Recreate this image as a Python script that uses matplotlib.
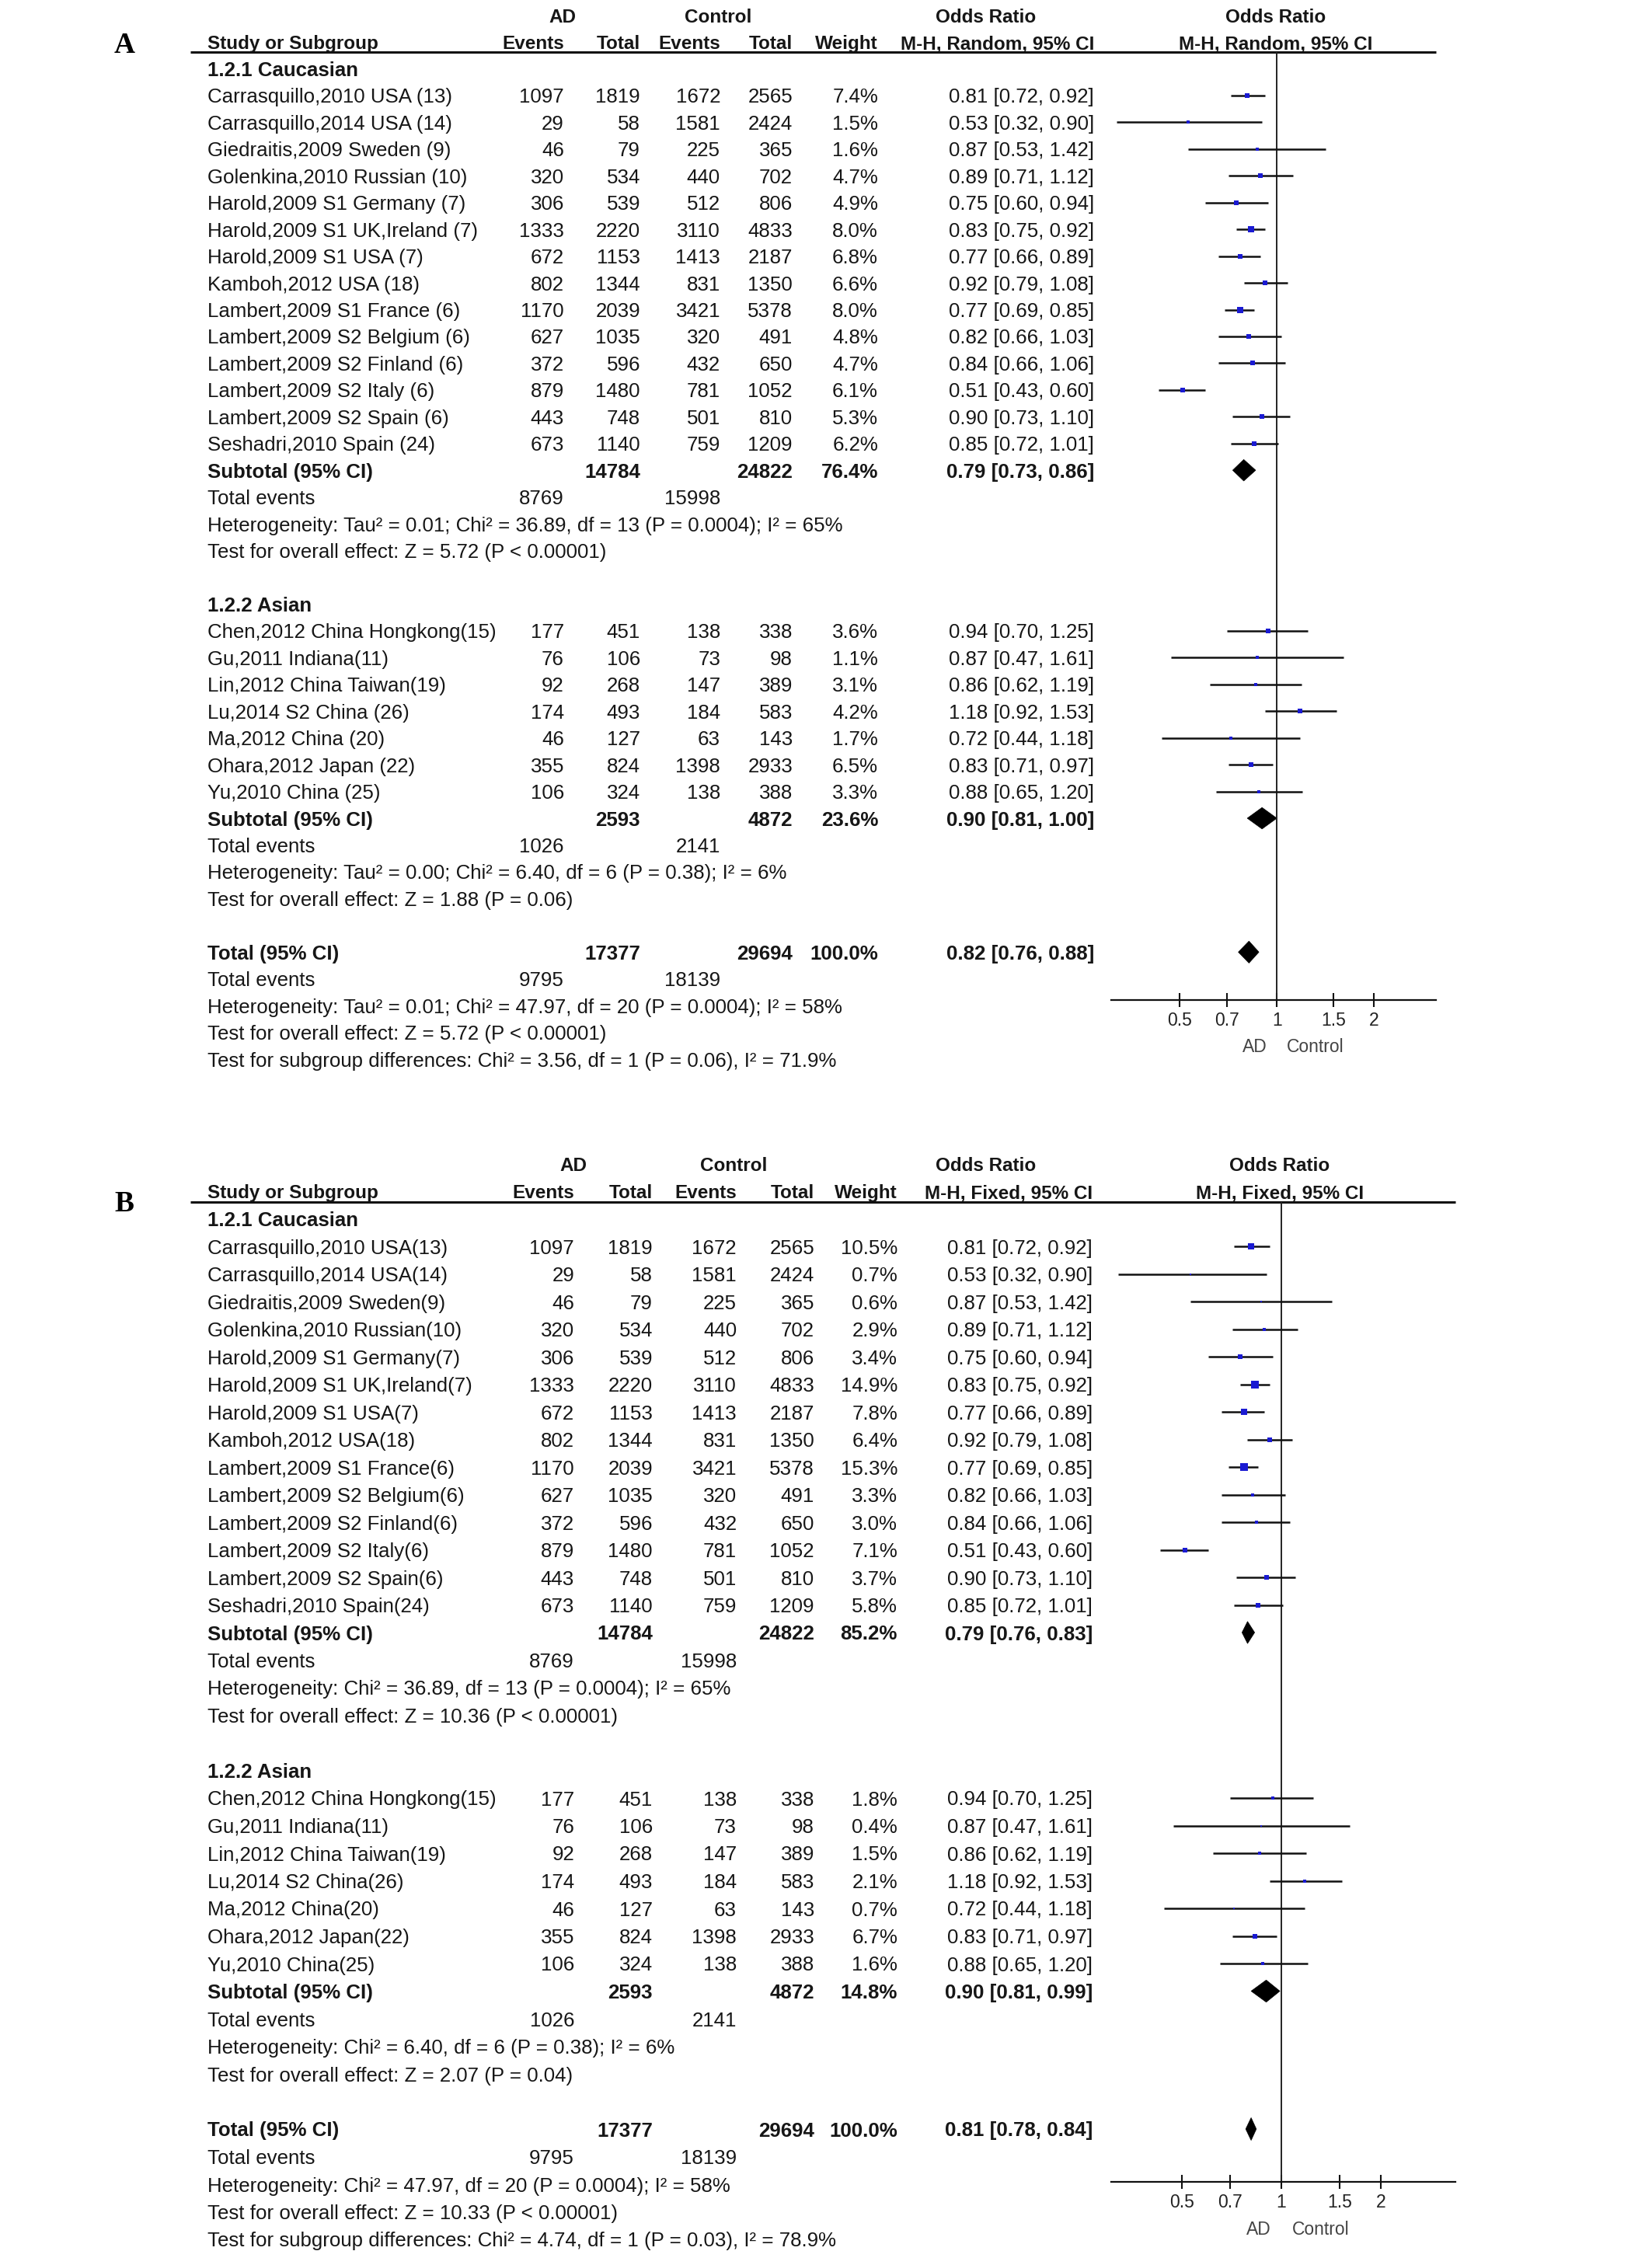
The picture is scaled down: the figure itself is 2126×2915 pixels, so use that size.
import numpy as np
import matplotlib
matplotlib.use('Agg')
import matplotlib.pyplot as plt
from matplotlib.patches import Polygon

# ---------------- data ----------------
cau_names = ["Carrasquillo,2010 USA (13)", "Carrasquillo,2014 USA (14)", "Giedraitis,2009 Sweden (9)",
             "Golenkina,2010 Russian (10)", "Harold,2009 S1 Germany (7)", "Harold,2009 S1 UK,Ireland (7)",
             "Harold,2009 S1 USA (7)", "Kamboh,2012 USA (18)", "Lambert,2009 S1 France (6)",
             "Lambert,2009 S2 Belgium (6)", "Lambert,2009 S2 Finland (6)", "Lambert,2009 S2 Italy (6)",
             "Lambert,2009 S2 Spain (6)", "Seshadri,2010 Spain (24)"]
cau_ad_events = [1097, 29, 46, 320, 306, 1333, 672, 802, 1170, 627, 372, 879, 443, 673]
cau_ad_total = [1819, 58, 79, 534, 539, 2220, 1153, 1344, 2039, 1035, 596, 1480, 748, 1140]
cau_ctrl_events = [1672, 1581, 225, 440, 512, 3110, 1413, 831, 3421, 320, 432, 781, 501, 759]
cau_ctrl_total = [2565, 2424, 365, 702, 806, 4833, 2187, 1350, 5378, 491, 650, 1052, 810, 1209]
cau_or = [0.81, 0.53, 0.87, 0.89, 0.75, 0.83, 0.77, 0.92, 0.77, 0.82, 0.84, 0.51, 0.90, 0.85]
cau_lo = [0.72, 0.32, 0.53, 0.71, 0.60, 0.75, 0.66, 0.79, 0.69, 0.66, 0.66, 0.43, 0.73, 0.72]
cau_hi = [0.92, 0.90, 1.42, 1.12, 0.94, 0.92, 0.89, 1.08, 0.85, 1.03, 1.06, 0.60, 1.10, 1.01]
cau_w_random = [7.4, 1.5, 1.6, 4.7, 4.9, 8.0, 6.8, 6.6, 8.0, 4.8, 4.7, 6.1, 5.3, 6.2]
cau_w_fixed = [10.5, 0.7, 0.6, 2.9, 3.4, 14.9, 7.8, 6.4, 15.3, 3.3, 3.0, 7.1, 3.7, 5.8]

asn_names = ["Chen,2012 China Hongkong(15)", "Gu,2011 Indiana(11)", "Lin,2012 China Taiwan(19)",
             "Lu,2014 S2 China (26)", "Ma,2012 China (20)", "Ohara,2012 Japan (22)", "Yu,2010 China (25)"]
asn_ad_events = [177, 76, 92, 174, 46, 355, 106]
asn_ad_total = [451, 106, 268, 493, 127, 824, 324]
asn_ctrl_events = [138, 73, 147, 184, 63, 1398, 138]
asn_ctrl_total = [338, 98, 389, 583, 143, 2933, 388]
asn_or = [0.94, 0.87, 0.86, 1.18, 0.72, 0.83, 0.88]
asn_lo = [0.70, 0.47, 0.62, 0.92, 0.44, 0.71, 0.65]
asn_hi = [1.25, 1.61, 1.19, 1.53, 1.18, 0.97, 1.20]
asn_w_random = [3.6, 1.1, 3.1, 4.2, 1.7, 6.5, 3.3]
asn_w_fixed = [1.8, 0.4, 1.5, 2.1, 0.7, 6.7, 1.6]

# subtotal / total: [totals AD, totals control, events AD, events control]
cau_sums = [14784, 24822, 8769, 15998]
asn_sums = [2593, 4872, 1026, 2141]
all_sums = [17377, 29694, 9795, 18139]

# pooled estimates [OR, lower, upper]
cau_pool_random = [0.79, 0.73, 0.86]
asn_pool_random = [0.90, 0.81, 1.00]
tot_pool_random = [0.82, 0.76, 0.88]
cau_pool_fixed = [0.79, 0.76, 0.83]
asn_pool_fixed = [0.90, 0.81, 0.99]
tot_pool_fixed = [0.81, 0.78, 0.84]
sub_weight_random = [76.4, 23.6]
sub_weight_fixed = [85.2, 14.8]

stats_random = {
    'cau': ["Heterogeneity: Tau² = 0.01; Chi² = 36.89, df = 13 (P = 0.0004); I² = 65%",
            "Test for overall effect: Z = 5.72 (P < 0.00001)"],
    'asn': ["Heterogeneity: Tau² = 0.00; Chi² = 6.40, df = 6 (P = 0.38); I² = 6%",
            "Test for overall effect: Z = 1.88 (P = 0.06)"],
    'tot': ["Heterogeneity: Tau² = 0.01; Chi² = 47.97, df = 20 (P = 0.0004); I² = 58%",
            "Test for overall effect: Z = 5.72 (P < 0.00001)",
            "Test for subgroup differences: Chi² = 3.56, df = 1 (P = 0.06), I² = 71.9%"],
}
stats_fixed = {
    'cau': ["Heterogeneity: Chi² = 36.89, df = 13 (P = 0.0004); I² = 65%",
            "Test for overall effect: Z = 10.36 (P < 0.00001)"],
    'asn': ["Heterogeneity: Chi² = 6.40, df = 6 (P = 0.38); I² = 6%",
            "Test for overall effect: Z = 2.07 (P = 0.04)"],
    'tot': ["Heterogeneity: Chi² = 47.97, df = 20 (P = 0.0004); I² = 58%",
            "Test for overall effect: Z = 10.33 (P < 0.00001)",
            "Test for subgroup differences: Chi² = 4.74, df = 1 (P = 0.03), I² = 78.9%"],
}
tick_vals = [0.5, 0.7, 1, 1.5, 2]
tick_labels = ["0.5", "0.7", "1", "1.5", "2"]

# ---------------- figure ----------------
W, H, DPI = 2126, 2915, 100
plt.rcParams['font.family'] = ['Liberation Sans', 'DejaVu Sans']
FS = 18.6
HFS = 17.5
TXT = '#161616'

fig = plt.figure(figsize=(W / DPI, H / DPI), dpi=DPI)
fig.patch.set_facecolor('white')
bg = fig.add_axes([0, 0, 1, 1])
bg.set_xlim(0, W)
bg.set_ylim(H, 0)
bg.axis('off')


def txt(x, y, s, ha='left', bold=False, size=FS, color=TXT, family=None):
    kw = {}
    if family:
        kw['family'] = family
    bg.text(x, y, s, ha=ha, va='center_baseline', fontsize=size,
            fontweight='bold' if bold else 'normal', color=color, **kw)


def ms_for(w):
    return (2.2 * np.sqrt(w) + 1.0) * 72.0 / DPI


def draw_panel(cfg, method, w_cau, w_asn, pools, sub_w, stats):
    r0, sp = cfg['row0'], cfg['sp']
    c = cfg['cols']
    nx = cfg['name_x']

    def Y(k):
        return r0 + sp * k

    # panel letter
    txt(cfg['letter_xy'][0], cfg['letter_xy'][1], cfg['letter'], ha='center', bold=True,
        size=27, color='black', family=['Liberation Serif', 'DejaVu Serif'])
    # headers
    txt(cfg['ad_c'], Y(-1), "AD", ha='center', bold=True, size=HFS)
    txt(cfg['ctrl_c'], Y(-1), "Control", ha='center', bold=True, size=HFS)
    txt(cfg['or_c'], Y(-1), "Odds Ratio", ha='center', bold=True, size=HFS)
    txt(cfg['fp_c'], Y(-1), "Odds Ratio", ha='center', bold=True, size=HFS)
    txt(nx, Y(0), "Study or Subgroup", bold=True, size=HFS)
    txt(c[0], Y(0), "Events", ha='right', bold=True, size=HFS)
    txt(c[1], Y(0), "Total", ha='right', bold=True, size=HFS)
    txt(c[2], Y(0), "Events", ha='right', bold=True, size=HFS)
    txt(c[3], Y(0), "Total", ha='right', bold=True, size=HFS)
    txt(c[4], Y(0), "Weight", ha='right', bold=True, size=HFS)
    txt(c[5], Y(0), f"M-H, {method}, 95% CI", ha='right', bold=True, size=HFS)
    txt(cfg['fp_c'], Y(0), f"M-H, {method}, 95% CI", ha='center', bold=True, size=HFS)
    bg.plot([cfg['line_x0'], cfg['ax_x1']], [cfg['ul_y'], cfg['ul_y']], color='#111111', lw=2.2,
            solid_capstyle='butt')

    # forest axes
    top_k = (cfg['ul_y'] - r0) / sp
    bot_k = (cfg['axis_y'] - r0) / sp
    ax = fig.add_axes([cfg['ax_x0'] / W, 1 - cfg['axis_y'] / H,
                       (cfg['ax_x1'] - cfg['ax_x0']) / W, (cfg['axis_y'] - cfg['ul_y']) / H])
    ax.set_xscale('log')
    ax.set_xlim(*cfg['xlim'])
    ax.set_ylim(bot_k, top_k)
    ax.set_facecolor('none')
    for s in ['top', 'left', 'right']:
        ax.spines[s].set_visible(False)
    ax.spines['bottom'].set_linewidth(1.6)
    ax.spines['bottom'].set_color('#111111')
    ax.set_yticks([])
    ax.set_xticks(tick_vals)
    ax.set_xticklabels(tick_labels)
    ax.minorticks_off()
    ax.tick_params(axis='x', which='major', direction='inout', length=13, width=1.5,
                   labelsize=16.5, pad=4.5, labelcolor='#222222', color='#111111')
    ax.axvline(1, color='#222222', lw=1.4)

    def study_block(names, ade, adt, ce, ct, orr, lo, hi, w, k0):
        for i in range(len(names)):
            k = k0 + i
            y = Y(k)
            txt(nx, y, names[i])
            txt(c[0], y, str(ade[i]), ha='right')
            txt(c[1], y, str(adt[i]), ha='right')
            txt(c[2], y, str(ce[i]), ha='right')
            txt(c[3], y, str(ct[i]), ha='right')
            txt(c[4], y, f"{w[i]:.1f}%", ha='right')
            txt(c[5], y, f"{orr[i]:.2f} [{lo[i]:.2f}, {hi[i]:.2f}]", ha='right')
            ax.plot([lo[i], hi[i]], [k, k], color='#111111', lw=1.8, solid_capstyle='butt')
            ax.plot([orr[i]], [k], marker='s', ms=ms_for(w[i]), color='#1a1ad2', mew=0)

    def diamond(p, k, h):
        ax.add_patch(Polygon([(p[1], k), (p[0], k - h), (p[2], k), (p[0], k + h)],
                             closed=True, facecolor='black', edgecolor='black', lw=0.5))

    def summary(label, sums, wt, p, k, h, sub_stats):
        y = Y(k)
        txt(nx, y, label, bold=True)
        txt(c[1], y, str(sums[0]), ha='right', bold=True)
        txt(c[3], y, str(sums[1]), ha='right', bold=True)
        txt(c[4], y, f"{wt:.1f}%", ha='right', bold=True)
        txt(c[5], y, f"{p[0]:.2f} [{p[1]:.2f}, {p[2]:.2f}]", ha='right', bold=True)
        diamond(p, k, h)
        txt(nx, Y(k + 1), "Total events")
        txt(c[0], Y(k + 1), str(sums[2]), ha='right')
        txt(c[2], Y(k + 1), str(sums[3]), ha='right')
        for j, s in enumerate(sub_stats):
            txt(nx, Y(k + 2 + j), s)

    # Caucasian
    txt(nx, Y(1), "1.2.1 Caucasian", bold=True)
    study_block(cfg['cau_names'], cau_ad_events, cau_ad_total, cau_ctrl_events, cau_ctrl_total,
                cau_or, cau_lo, cau_hi, w_cau, 2)
    summary("Subtotal (95% CI)", cau_sums, sub_w[0], pools[0], 16, 0.40, stats['cau'])
    # Asian
    txt(nx, Y(21), "1.2.2 Asian", bold=True)
    study_block(cfg['asn_names'], asn_ad_events, asn_ad_total, asn_ctrl_events, asn_ctrl_total,
                asn_or, asn_lo, asn_hi, w_asn, 22)
    summary("Subtotal (95% CI)", asn_sums, sub_w[1], pools[1], 29, 0.40, stats['asn'])
    # Total
    summary("Total (95% CI)", all_sums, 100.0, pools[2], 34, 0.41, stats['tot'])

    # axis captions
    txt(cfg['cap_ad_x'], cfg['cap_y'], "AD", size=16.5, color='#444444')
    txt(cfg['cap_ctrl_x'], cfg['cap_y'], "Control", size=16.5, color='#444444')


cfgA = dict(letter='A', letter_xy=(160, 54), row0=54, sp=34.45, name_x=267,
            cols=[726, 824, 927, 1020, 1130, 1408],
            ad_c=724, ctrl_c=924, or_c=1269, fp_c=1642,
            line_x0=245, ul_y=67, ax_x0=1430, ax_x1=1848, axis_y=1287,
            xlim=(0.307, 3.11), cap_ad_x=1599, cap_ctrl_x=1656, cap_y=1345,
            cau_names=cau_names, asn_names=asn_names)
cfgB = dict(letter='B', letter_xy=(160, 1545), row0=1533, sp=35.5, name_x=267,
            cols=[739, 840, 948, 1048, 1155, 1406],
            ad_c=738, ctrl_c=944, or_c=1269, fp_c=1647,
            line_x0=245, ul_y=1547, ax_x0=1430, ax_x1=1873, axis_y=2808,
            xlim=(0.305, 3.37), cap_ad_x=1604, cap_ctrl_x=1663, cap_y=2867,
            cau_names=[n.replace(" (", "(") for n in cau_names],
            asn_names=[n.replace(" (", "(") for n in asn_names])

draw_panel(cfgA, "Random", cau_w_random, asn_w_random,
           [cau_pool_random, asn_pool_random, tot_pool_random], sub_weight_random, stats_random)
draw_panel(cfgB, "Fixed", cau_w_fixed, asn_w_fixed,
           [cau_pool_fixed, asn_pool_fixed, tot_pool_fixed], sub_weight_fixed, stats_fixed)

fig.savefig('out.png', dpi=DPI, facecolor='white')
